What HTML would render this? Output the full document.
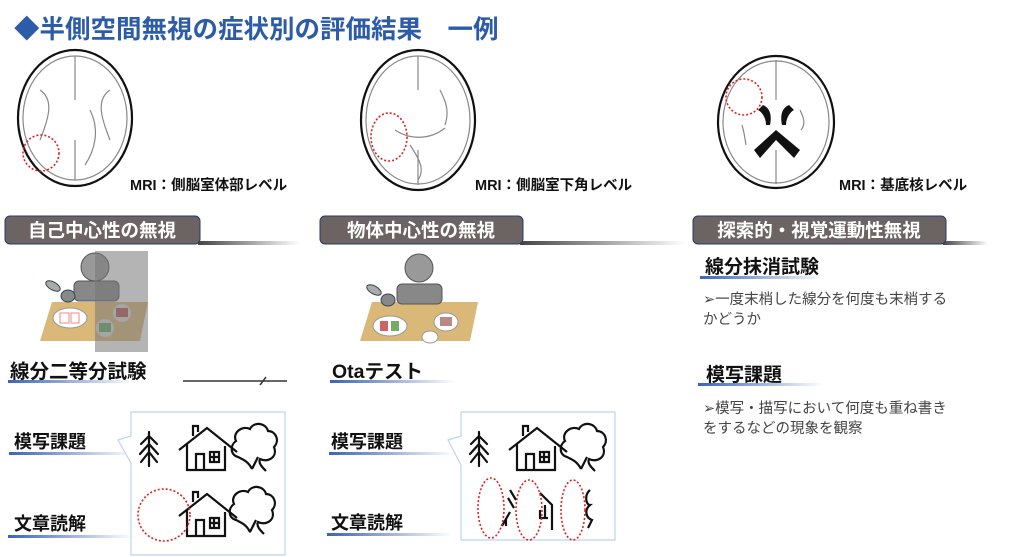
<!DOCTYPE html>
<html><head><meta charset="utf-8"><style>
html,body{margin:0;padding:0;background:#fff;}
svg{display:block;font-family:"Liberation Sans","Noto Sans CJK JP",sans-serif;}
</style></head><body>
<svg width="1024" height="557" viewBox="0 0 1024 557" xmlns="http://www.w3.org/2000/svg">
<defs>
<linearGradient id="ul" x1="0" x2="1"><stop offset="0" stop-color="#3a64b8"/><stop offset="1" stop-color="#3a64b8" stop-opacity="0"/></linearGradient>
<linearGradient id="hl" x1="0" x2="1"><stop offset="0" stop-color="#444"/><stop offset="1" stop-color="#444" stop-opacity="0"/></linearGradient>
<g id="tree1" fill="none" stroke="#111" stroke-width="2.2" stroke-linecap="round">
<path d="M0,0 V34 M0,4 L-8,12 M0,4 L8,12 M0,12 L-9,22 M0,12 L9,22 M0,20 L-8,30 M0,20 L8,30"/></g>
<g id="house" fill="none" stroke="#111" stroke-width="2.2">
<path d="M-28,18 L0,-4 L30,20 M-20,12 V38 H18 V14 M-14,4 V-6 H-9 V0 M-11,38 V22 H-3 V38 M3,20 H12 V30 H3 Z M7,20 V30 M3,25 H12"/></g>
<g id="tree2" fill="none" stroke="#111" stroke-width="2.2">
<path d="M-4,34 C-8,26 -14,24 -18,22 C-26,20 -26,10 -20,6 C-24,-2 -14,-10 -6,-6 C-2,-14 10,-12 12,-4 C20,-4 24,6 18,12 C22,22 12,28 4,24 C2,28 6,32 10,36 M-4,34 L2,22"/></g>
</defs>

<text x="14" y="38" font-size="25.5" font-weight="bold" fill="#2c5ca8">◆半側空間無視の症状別の評価結果　一例</text>

<g fill="#fff" stroke="#111" stroke-width="2.2">
<ellipse cx="75" cy="118" rx="57" ry="68"/>
<ellipse cx="418" cy="120" rx="57" ry="70"/>
<ellipse cx="776" cy="122" rx="58" ry="66"/>
</g>
<g fill="none" stroke="#888" stroke-width="1.2">
<ellipse cx="75" cy="118" rx="52" ry="62"/>
<path d="M75,56 V100 M75,140 V180 M40,90 C55,100 48,120 40,140 M110,90 C95,100 102,120 110,140 M90,110 C100,130 95,150 85,165"/>
<ellipse cx="418" cy="120" rx="52" ry="64"/>
<path d="M418,56 V90 M418,150 V185 M395,130 C410,140 430,140 445,128 M410,145 C420,160 425,170 418,180 M440,90 C445,100 450,110 445,125"/>
<ellipse cx="776" cy="122" rx="53" ry="61"/>
<path d="M776,60 V100 M776,150 V184 M800,110 C805,120 805,125 801,130 M742,125 C745,135 745,140 746,145"/>
</g>
<g fill="#111">
<path d="M763,105 C770,108 772,115 770,125 L766,125 C766,118 762,112 758,110 Z"/>
<path d="M789,105 C782,108 780,115 782,125 L786,125 C786,118 790,112 794,110 Z"/>
<path d="M776,130 L800,150 L794,158 L776,140 L760,158 L754,150 Z"/>
</g>
<g fill="none" stroke="#e02020" stroke-width="1.6" stroke-dasharray="2,2">
<circle cx="41" cy="153" r="18"/>
<ellipse cx="389" cy="137" rx="18" ry="24"/>
<circle cx="744" cy="97" r="18"/>
</g>
<g font-size="14.5" font-weight="bold" fill="#111">
<text x="130" y="190">MRI：側脳室体部レベル</text>
<text x="475" y="190">MRI：側脳室下角レベル</text>
<text x="839" y="190">MRI：基底核レベル</text>
</g>

<g>
<rect x="198" y="241" width="102" height="4" fill="url(#hl)"/>
<rect x="5" y="216" width="195" height="28" rx="5" fill="#6b6463" stroke="#2a3a6a" stroke-width="1"/>
<text x="102" y="237" font-size="18.5" font-weight="bold" fill="#fff" text-anchor="middle">自己中心性の無視</text>
<rect x="520" y="241" width="165" height="4" fill="url(#hl)"/>
<rect x="320" y="216" width="203" height="28" rx="5" fill="#6b6463" stroke="#2a3a6a" stroke-width="1"/>
<text x="421" y="237" font-size="18.5" font-weight="bold" fill="#fff" text-anchor="middle">物体中心性の無視</text>
<rect x="943" y="241" width="45" height="4" fill="url(#hl)"/>
<rect x="693" y="216" width="253" height="28" rx="5" fill="#6b6463" stroke="#2a3a6a" stroke-width="1"/>
<text x="819" y="237" font-size="18.5" font-weight="bold" fill="#fff" text-anchor="middle">探索的・視覚運動性無視</text>
</g>

<g>
<polygon points="52,302 148,302 140,341 40,341" fill="#d9b878"/>
<ellipse cx="70" cy="318" rx="17" ry="10" fill="#fff" stroke="#999"/>
<rect x="60" y="313" width="9" height="10" fill="none" stroke="#e88"/><rect x="71" y="313" width="8" height="10" fill="none" stroke="#e88"/>
<circle cx="122" cy="313" r="9" fill="#ddd"/><rect x="116" y="308" width="12" height="9" fill="#b55"/>
<circle cx="105" cy="328" r="9" fill="#ddd"/><rect x="99" y="323" width="12" height="9" fill="#6a6"/>
<rect x="74" y="281" width="45" height="20" rx="5" fill="#888" stroke="#555"/>
<circle cx="95" cy="267" r="14" fill="#999" stroke="#555"/>
<ellipse cx="53" cy="286" rx="8" ry="4" fill="#aaa" stroke="#345" transform="rotate(30 53 286)"/>
<ellipse cx="68" cy="296" rx="7" ry="6" fill="#888" stroke="#345"/>
<rect x="95" y="251" width="53" height="101" fill="#777" opacity="0.55"/>
</g>
<g>
<polygon points="372,302 478,302 470,341 360,341" fill="#d9b878"/>
<ellipse cx="390" cy="326" rx="17" ry="10" fill="#fff" stroke="#999"/>
<rect x="380" y="321" width="8" height="10" fill="#c66"/><rect x="391" y="321" width="8" height="10" fill="#7a6"/>
<ellipse cx="446" cy="322" rx="12" ry="9" fill="#fff" stroke="#999"/><rect x="440" y="317" width="12" height="9" fill="#b88"/>
<ellipse cx="430" cy="337" rx="8" ry="6" fill="#fff" stroke="#999"/>
<rect x="397" y="284" width="45" height="20" rx="5" fill="#888" stroke="#555"/>
<circle cx="419" cy="268" r="14" fill="#999" stroke="#555"/>
<ellipse cx="374" cy="290" rx="8" ry="4" fill="#aaa" stroke="#345" transform="rotate(30 374 290)"/>
<ellipse cx="388" cy="300" rx="7" ry="6" fill="#888" stroke="#345"/>
</g>

<g font-weight="bold" fill="#111">
<rect x="8" y="380" width="127" height="3" fill="url(#ul)"/><text x="10" y="378" font-size="19.5">線分二等分試験</text>
<rect x="330" y="380" width="127" height="3" fill="url(#ul)"/><text x="332" y="378" font-size="19.5">Otaテスト</text>
<rect x="9" y="452" width="125" height="3" fill="url(#ul)"/><text x="14" y="448" font-size="18">模写課題</text>
<rect x="8" y="535" width="125" height="3" fill="url(#ul)"/><text x="14" y="530" font-size="18">文章読解</text>
<rect x="329" y="452" width="125" height="3" fill="url(#ul)"/><text x="331" y="448" font-size="18">模写課題</text>
<rect x="327" y="533" width="125" height="3" fill="url(#ul)"/><text x="331" y="529" font-size="18">文章読解</text>
<rect x="700" y="276" width="125" height="3" fill="url(#ul)"/><text x="705" y="273" font-size="19">線分抹消試験</text>
<rect x="698" y="383" width="125" height="3" fill="url(#ul)"/><text x="706" y="381" font-size="19">模写課題</text>
</g>
<g font-size="14.5" fill="#444">
<text x="703" y="304">➢一度末梢した線分を何度も末梢する</text>
<text x="703" y="324">かどうか</text>
<text x="703" y="413">➢模写・描写において何度も重ね書き</text>
<text x="703" y="433">をするなどの現象を観察</text>
</g>
<line x1="183" y1="381" x2="287" y2="381" stroke="#333" stroke-width="1.5"/>
<line x1="260" y1="385" x2="266" y2="377" stroke="#333" stroke-width="1.5"/>

<path d="M131,412 H285 V555 H131 V463 L118,440 L131,436 Z" fill="#fff" stroke="#bcd4ee" stroke-width="1.2"/>
<path d="M461,412 H615 V540 H461 V465 L448,440 L461,436 Z" fill="#fff" stroke="#bcd4ee" stroke-width="1.2"/>
<use href="#tree1" x="149" y="432"/>
<use href="#house" x="207" y="432"/>
<use href="#tree2" x="256" y="435"/>
<use href="#house" x="207" y="498"/>
<use href="#tree2" x="254" y="498"/>
<use href="#tree1" x="479" y="432"/>
<use href="#house" x="537" y="432"/>
<use href="#tree2" x="585" y="435"/>
<g fill="none" stroke="#111" stroke-width="2.2">
<path d="M510,490 L516,500 M508,498 L514,508 M510,512 L502,526 M506,518 V526"/>
<path d="M540,493 L552,505 V530 M540,510 V518 H548 M545,505 V518"/>
<path d="M590,490 C584,495 586,505 590,505 C584,510 586,518 592,520 L588,528"/>
</g>
<g fill="none" stroke="#e02020" stroke-width="1.6" stroke-dasharray="2,2">
<circle cx="164" cy="515" r="26"/>
<ellipse cx="491" cy="508" rx="13" ry="30"/>
<ellipse cx="529" cy="510" rx="13" ry="30"/>
<ellipse cx="573" cy="510" rx="12" ry="30"/>
</g>
</svg>
</body></html>
